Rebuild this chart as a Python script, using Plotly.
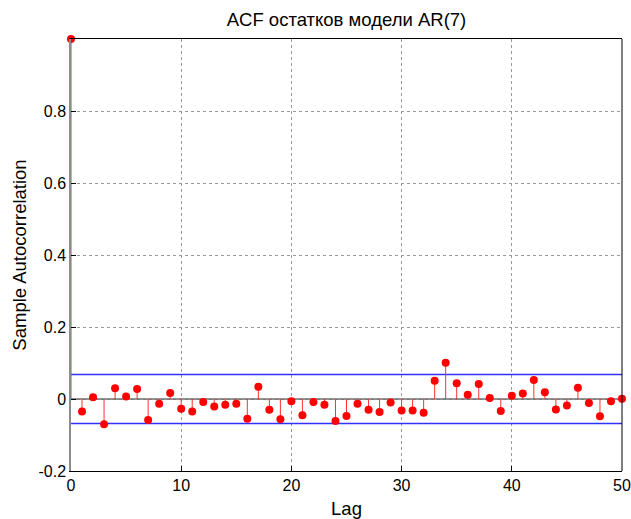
import plotly.graph_objects as go

lags = list(range(0, 51))
acf = [1.0, -0.035, 0.005, -0.070, 0.030, 0.007, 0.028, -0.058, -0.013, 0.017,
       -0.027, -0.035, -0.008, -0.021, -0.016, -0.013, -0.055, 0.034, -0.030, -0.056,
       -0.006, -0.045, -0.008, -0.016, -0.061, -0.047, -0.013, -0.030, -0.036, -0.010,
       -0.032, -0.032, -0.038, 0.051, 0.101, 0.044, 0.012, 0.042, 0.003, -0.033,
       0.009, 0.015, 0.053, 0.019, -0.029, -0.018, 0.031, -0.011, -0.048, -0.006,
       0.001]
bound = 0.068
yticks = [-0.2, 0, 0.2, 0.4, 0.6, 0.8]
ytick_text = ["-0.2", "0", "0.2", "0.4", "0.6", "0.8"]
xticks = [0, 10, 20, 30, 40, 50]

stem_x, stem_y = [], []
for l, v in zip(lags, acf):
    stem_x += [l, l, None]
    stem_y += [0, v, None]

fig = go.Figure()
fig.add_trace(go.Scatter(x=[0, 50], y=[0, 0], mode="lines",
                         line=dict(color="#6e6e6e", width=1.5), hoverinfo="skip"))
for b in (bound, -bound):
    fig.add_trace(go.Scatter(x=[0, 50], y=[b, b], mode="lines",
                             line=dict(color="#3030ff", width=1.5), hoverinfo="skip"))
fig.add_trace(go.Scatter(x=stem_x, y=stem_y, mode="lines",
                         line=dict(color="#ff3030", width=1), hoverinfo="skip"))
fig.add_trace(go.Scatter(x=lags, y=acf, mode="markers", cliponaxis=False,
                         marker=dict(color="#ff0000", size=8, line=dict(width=0))))

fig.add_shape(type="line", xref="paper", yref="paper", x0=1, x1=1, y0=0, y1=1,
              line=dict(color="black", width=1))

fig.update_layout(
    width=631, height=519,
    margin=dict(l=71, r=9, t=39, b=48, autoexpand=False),
    paper_bgcolor="white", plot_bgcolor="white",
    showlegend=False,
    font=dict(family="Liberation Sans, Arial", size=16, color="black"),
    title=dict(text="ACF остатков модели AR(7)", x=0.5, xanchor="center",
               xref="paper", y=1 - 19.5 / 519, yanchor="middle",
               font=dict(size=18.5, color="black")),
)
fig.update_xaxes(range=[0, 50], tickvals=xticks, ticks="inside", ticklen=5,
                 tickcolor="black", showline=True, linecolor="black", linewidth=1,
                 mirror=True, showgrid=True, gridcolor="#9a9a9a", griddash="dot",
                 gridwidth=1, zeroline=False, automargin=False,
                 tickfont=dict(size=16),
                 title=dict(text="Lag", font=dict(size=18.5), standoff=9))
fig.update_yaxes(range=[-0.2, 1.0], tickvals=yticks, ticktext=ytick_text,
                 ticks="inside", ticklen=5, tickcolor="black",
                 showline=True, linecolor="#8c8c8c", linewidth=1.5, mirror=False,
                 showgrid=True, gridcolor="#9a9a9a", griddash="dot", gridwidth=1,
                 zeroline=False, automargin=False, tickfont=dict(size=16),
                 title=dict(text="Sample Autocorrelation", font=dict(size=18.5),
                            standoff=7))

fig.write_html("out.html")
